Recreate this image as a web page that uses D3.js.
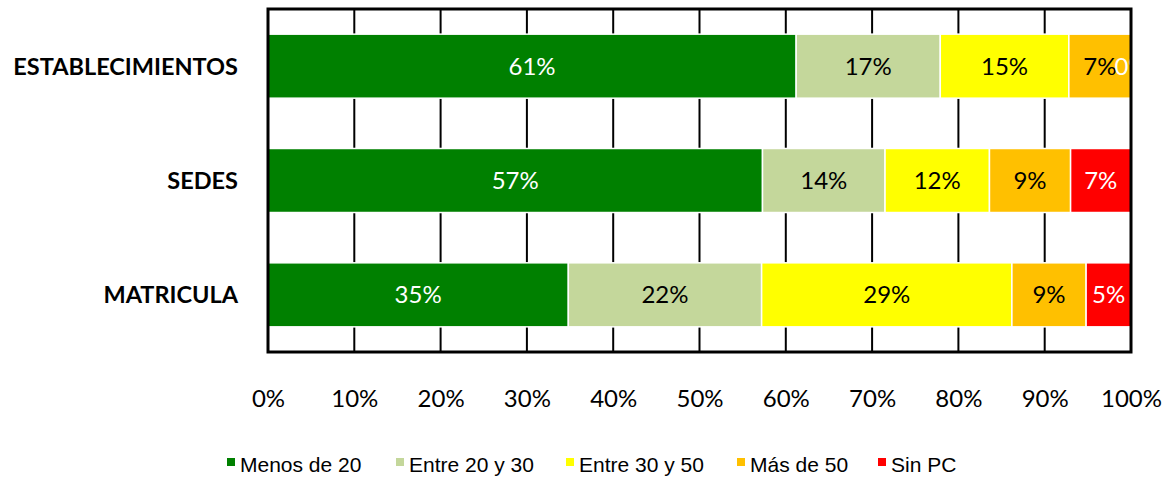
<!DOCTYPE html>
<html>
<head>
<meta charset="utf-8">
<script src="https://cdn.jsdelivr.net/npm/d3@7"></script>
<style>
  body { margin: 0; background: #fff; }
  svg { display: block; }
</style>
</head>
<body>
<div id="chart"></div>
<script>
// Data (share of each group, %)
const categories = ['ESTABLECIMIENTOS', 'SEDES', 'MATRICULA'];
const seriesNames = ['Menos de 20', 'Entre 20 y 30', 'Entre 30 y 50', 'Más de 50', 'Sin PC'];
const seriesColors = ['#008000', '#C4D79B', '#FFFF00', '#FFC000', '#FF0000'];
const labelColors = ['#fff', '#000', '#000', '#000', '#fff'];
const menos20 = [61.2, 57.3, 34.8];
const entre20y30 = [16.7, 14.2, 22.4];
const entre30y50 = [14.9, 12.1, 29.0];
const mas50 = [7.2, 9.4, 8.6];
const sinPC = [0.0, 7.0, 5.2];
const xTicks = [0, 10, 20, 30, 40, 50, 60, 70, 80, 90, 100];

const W = 1173, H = 481;
const plot = { left: 268, right: 1131, top: 9, bottom: 352 };

const svg = d3.select('#chart').append('svg')
    .attr('width', W)
    .attr('height', H);

const x = d3.scaleLinear().domain([0, 100]).range([plot.left, plot.right]);
const y = d3.scaleBand().domain(categories)
    .range([plot.top, plot.bottom])
    .paddingInner(0.44)
    .paddingOuter(0.22);

// rows for stacking
const series = [menos20, entre20y30, entre30y50, mas50, sinPC];
const rows = categories.map((c, i) => {
    const r = { cat: c };
    seriesNames.forEach((s, j) => { r[s] = series[j][i]; });
    return r;
});
const stacked = d3.stack().keys(seriesNames)(rows);

svg.append('defs').append('clipPath')
    .attr('id', 'plotClip')
    .append('rect')
    .attr('x', plot.left)
    .attr('y', plot.top)
    .attr('width', plot.right - plot.left)
    .attr('height', plot.bottom - plot.top);

// vertical gridlines
svg.append('g')
    .selectAll('line')
    .data(xTicks.slice(1, -1))
    .enter()
    .append('line')
    .attr('x1', d => x(d))
    .attr('x2', d => x(d))
    .attr('y1', plot.top)
    .attr('y2', plot.bottom)
    .attr('stroke', '#000')
    .attr('stroke-width', 2);

// bars
const layers = svg.append('g')
    .selectAll('g')
    .data(stacked)
    .enter()
    .append('g')
    .attr('fill', (d, i) => seriesColors[i]);

layers.selectAll('rect')
    .data(d => d)
    .enter()
    .append('rect')
    .attr('x', d => x(d[0]))
    .attr('y', d => y(d.data.cat))
    .attr('width', d => Math.max(0, x(d[1]) - x(d[0])))
    .attr('height', y.bandwidth())
    .attr('stroke', '#fff')
    .attr('stroke-width', 1.5);

// data labels
const labels = svg.append('g')
    .attr('clip-path', 'url(#plotClip)')
    .attr('font-family', 'Lato, "Open Sans", sans-serif')
    .attr('font-size', 24)
    .attr('text-anchor', 'middle');

stacked.forEach((layer, i) => {
    labels.selectAll(null)
        .data(layer)
        .enter()
        .append('text')
        .attr('x', d => x((d[0] + d[1]) / 2))
        .attr('y', d => y(d.data.cat) + y.bandwidth() / 2)
        .attr('dy', '0.36em')
        .attr('fill', labelColors[i])
        .text(d => Math.round(d[1] - d[0]) + '%');
});

// plot border
svg.append('rect')
    .attr('x', plot.left)
    .attr('y', plot.top)
    .attr('width', plot.right - plot.left)
    .attr('height', plot.bottom - plot.top)
    .attr('fill', 'none')
    .attr('stroke', '#000')
    .attr('stroke-width', 3);

// x axis labels
const xAxis = svg.append('g')
    .attr('transform', `translate(0,${plot.bottom})`)
    .call(d3.axisBottom(x).tickValues(xTicks).tickFormat(d => d + '%').tickSize(0).tickPadding(0));
xAxis.select('.domain').remove();
xAxis.selectAll('text')
    .attr('y', 55)
    .attr('dy', 0)
    .attr('font-family', 'Lato, "Open Sans", sans-serif')
    .attr('font-size', 24)
    .attr('fill', '#000');

// category labels
svg.append('g')
    .selectAll('text')
    .data(categories)
    .enter()
    .append('text')
    .attr('x', 238)
    .attr('y', d => y(d) + y.bandwidth() / 2)
    .attr('dy', '0.36em')
    .attr('text-anchor', 'end')
    .attr('font-family', 'Lato, "Open Sans", sans-serif')
    .attr('font-weight', 'bold')
    .attr('font-size', 23.5)
    .attr('fill', '#000')
    .text(d => d);

// legend
const legendX = [227, 396, 566, 737, 878];
const legend = svg.append('g')
    .selectAll('g')
    .data(seriesNames)
    .enter()
    .append('g')
    .attr('transform', (d, i) => `translate(${legendX[i]},458)`);

legend.append('rect')
    .attr('width', 8)
    .attr('height', 8)
    .attr('fill', (d, i) => seriesColors[i]);

legend.append('text')
    .attr('x', 13)
    .attr('y', 14)
    .attr('font-family', '"Liberation Sans", Arial, sans-serif')
    .attr('font-size', 21)
    .attr('fill', '#000')
    .text(d => d);
</script>
</body>
</html>
